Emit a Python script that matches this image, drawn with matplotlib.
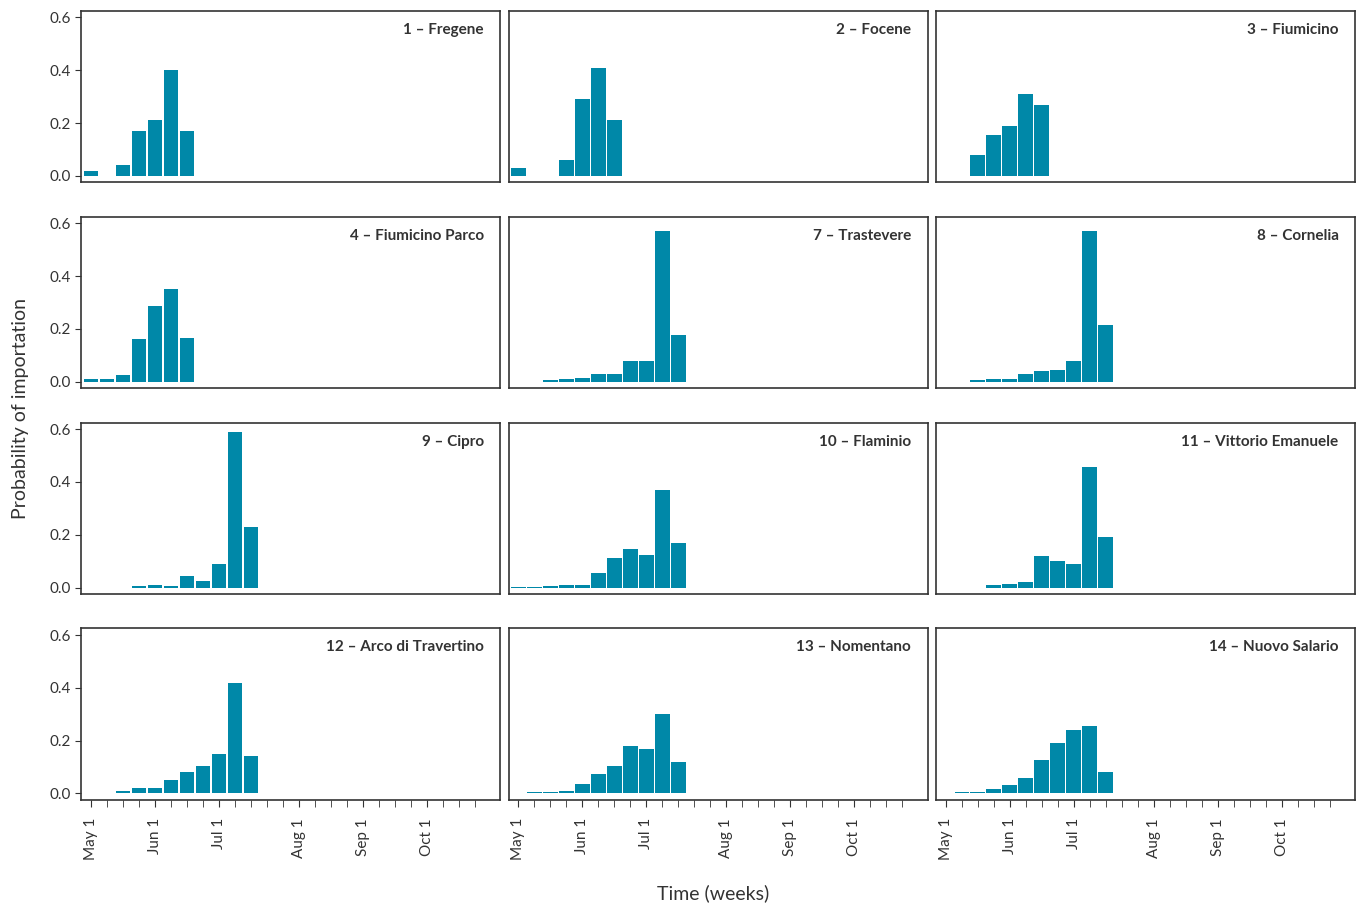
import matplotlib
matplotlib.use("Agg")
import matplotlib.pyplot as plt
import numpy as np

plt.rcParams['font.family'] = ['Lato', 'DejaVu Sans']

titles = ["1 – Fregene", "2 – Focene", "3 – Fiumicino",
          "4 – Fiumicino Parco", "7 – Trastevere", "8 – Cornelia",
          "9 – Cipro", "10 – Flaminio", "11 – Vittorio Emanuele",
          "12 – Arco di Travertino", "13 – Nomentano", "14 – Nuovo Salario"]
# weekly probabilities, week 0 = May 1
p1 = [0.02, 0, 0.04, 0.17, 0.21, 0.40, 0.17]
p2 = [0.03, 0, 0, 0.06, 0.29, 0.41, 0.21]
p3 = [0, 0, 0.08, 0.155, 0.19, 0.31, 0.27]
p4 = [0.01, 0.01, 0.025, 0.16, 0.285, 0.35, 0.165]
p7 = [0, 0, 0.005, 0.01, 0.015, 0.03, 0.03, 0.08, 0.08, 0.57, 0.175]
p8 = [0, 0, 0.005, 0.01, 0.01, 0.03, 0.04, 0.045, 0.08, 0.57, 0.215]
p9 = [0, 0, 0, 0.005, 0.01, 0.005, 0.045, 0.025, 0.09, 0.59, 0.23]
p10 = [0.002, 0.002, 0.005, 0.01, 0.008, 0.055, 0.11, 0.145, 0.125, 0.37, 0.17]
p11 = [0, 0, 0, 0.01, 0.015, 0.02, 0.12, 0.10, 0.09, 0.455, 0.19]
p12 = [0.003, 0, 0.01, 0.02, 0.02, 0.05, 0.08, 0.105, 0.15, 0.42, 0.14]
p13 = [0, 0.005, 0.005, 0.01, 0.035, 0.075, 0.105, 0.18, 0.17, 0.30, 0.12]
p14 = [0, 0.005, 0.005, 0.015, 0.03, 0.06, 0.125, 0.19, 0.24, 0.255, 0.08]
series = [p1, p2, p3, p4, p7, p8, p9, p10, p11, p12, p13, p14]

date_labels = ["May 1", "Jun 1", "Jul 1", "Aug 1", "Sep 1", "Oct 1"]
date_weeks = [0, 4, 8, 13, 17, 21]
n_weeks = 25
yticks = [0.0, 0.2, 0.4, 0.6]

color = "#0088a8"
fig, axes = plt.subplots(4, 3, figsize=(13.58, 9.07), dpi=100)
fig.subplots_adjust(left=0.06, right=0.998, top=0.988, bottom=0.118, wspace=0.02, hspace=0.2)
for i, ax in enumerate(axes.flat):
    v = series[i]
    ax.bar(np.arange(len(v)), v, width=0.92, color=color, edgecolor="none")
    ax.set_xlim(-0.6, 25.6)
    ax.set_ylim(-0.025, 0.625)
    for s in ax.spines.values():
        s.set_color("#333333"); s.set_linewidth(1.2)
    ax.text(0.96, 0.93, titles[i], transform=ax.transAxes, ha="right", va="top",
            fontsize=11, fontweight="bold", color="#333333")
    if i % 3 == 0:
        ax.set_yticks(yticks)
        ax.set_yticklabels([f"{t:.1f}" for t in yticks], fontsize=11, color="#333333")
        ax.tick_params(axis="y", length=4, color="#333333")
    else:
        ax.set_yticks([])
    if i >= 9:
        ax.set_xticks(np.arange(n_weeks), minor=True)
        ax.set_xticks(date_weeks)
        ax.set_xticklabels(date_labels, rotation=90, fontsize=11, color="#333333")
        ax.tick_params(axis="x", which="both", length=5, color="#333333", pad=8)
    else:
        ax.set_xticks([])

fig.text(0.015, 0.55, "Probability of importation", rotation=90, ha="center", va="center",
         fontsize=14, color="#333333")
fig.text(0.525, 0.005, "Time (weeks)", ha="center", va="bottom", fontsize=14, color="#333333")
fig.savefig("out.png", dpi=100)
